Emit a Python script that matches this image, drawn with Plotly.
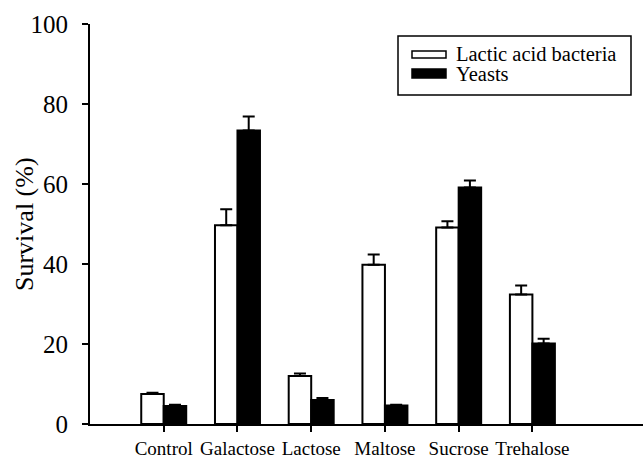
import plotly.graph_objects as go

categories = ["Control", "Galactose", "Lactose", "Maltose", "Sucrose", "Trehalose"]
lab_values = [7.5, 49.7, 12.0, 39.8, 49.1, 32.4]
lab_errors = [0.3, 4.0, 0.6, 2.6, 1.6, 2.2]
yeast_values = [4.5, 73.4, 6.0, 4.6, 59.1, 20.1]
yeast_errors = [0.3, 3.5, 0.5, 0.2, 1.8, 1.2]
series_names = ["Lactic acid bacteria", "Yeasts"]
y_ticks = [0, 20, 40, 60, 80, 100]

FONT = "Liberation Serif"
W, H = 643, 464
ML, MR, MT, MB = 90, 0, 24, 40


def px_x(p):
    return (p - ML) / (W - ML - MR)


def px_y(p):
    return (H - MB - p) / (H - MT - MB)


fig = go.Figure()
fig.add_trace(go.Bar(
    x=categories, y=lab_values, name=series_names[0],
    marker=dict(color="white", line=dict(color="black", width=2)),
    error_y=dict(type="data", symmetric=False, array=lab_errors,
                 arrayminus=[0] * len(lab_errors), color="black",
                 thickness=2, width=6),
    showlegend=False,
))
fig.add_trace(go.Bar(
    x=categories, y=yeast_values, name=series_names[1],
    marker=dict(color="black", line=dict(color="black", width=2)),
    error_y=dict(type="data", symmetric=False, array=yeast_errors,
                 arrayminus=[0] * len(yeast_errors), color="black",
                 thickness=2, width=6),
    showlegend=False,
))

# legend drawn by hand (wide rectangular swatches as in the reference)
shapes = [
    dict(type="rect", xref="paper", yref="paper",
         x0=px_x(398), x1=px_x(631), y0=px_y(95), y1=px_y(36),
         line=dict(color="black", width=1.5), fillcolor="white"),
    dict(type="rect", xref="paper", yref="paper",
         x0=px_x(412), x1=px_x(446), y0=px_y(58), y1=px_y(51),
         line=dict(color="black", width=1.5), fillcolor="white"),
    dict(type="rect", xref="paper", yref="paper",
         x0=px_x(412), x1=px_x(446), y0=px_y(78), y1=px_y(69),
         line=dict(color="black", width=1.5), fillcolor="black"),
]
annotations = [
    dict(text=series_names[0], xref="paper", yref="paper",
         x=px_x(455), y=px_y(54), xanchor="left", yanchor="middle",
         showarrow=False, borderpad=0,
         font=dict(family=FONT, size=20.5, color="black")),
    dict(text=series_names[1], xref="paper", yref="paper",
         x=px_x(455), y=px_y(74.5), xanchor="left", yanchor="middle",
         showarrow=False, borderpad=0,
         font=dict(family=FONT, size=20.5, color="black")),
    dict(text="Survival (%)", xref="paper", yref="paper",
         x=px_x(24), y=px_y(224), xanchor="center", yanchor="middle",
         textangle=-90, showarrow=False,
         font=dict(family=FONT, size=26, color="black")),
]

fig.update_layout(
    width=W, height=H,
    margin=dict(l=ML, r=MR, t=MT, b=MB, pad=0),
    paper_bgcolor="white", plot_bgcolor="white",
    barmode="group", bargap=0.39, bargroupgap=0,
    showlegend=False,
    shapes=shapes, annotations=annotations,
    font=dict(family=FONT, color="black"),
)
fig.update_xaxes(
    type="category", range=[-1, 6.5],
    showline=True, linecolor="black", linewidth=2,
    ticks="outside", ticklen=6, tickwidth=2, tickcolor="black",
    showgrid=False, zeroline=False,
    tickfont=dict(family=FONT, size=19, color="black"),
)
fig.update_yaxes(
    range=[0, 100], tickvals=y_ticks,
    showline=True, linecolor="black", linewidth=2,
    ticks="outside", ticklen=6, tickwidth=2, tickcolor="black",
    ticklabelstandoff=9,
    showgrid=False, zeroline=False,
    tickfont=dict(family=FONT, size=25, color="black"),
)

fig.write_html("out.html", config={"displayModeBar": False},
               post_script="document.body.style.margin='0';")
